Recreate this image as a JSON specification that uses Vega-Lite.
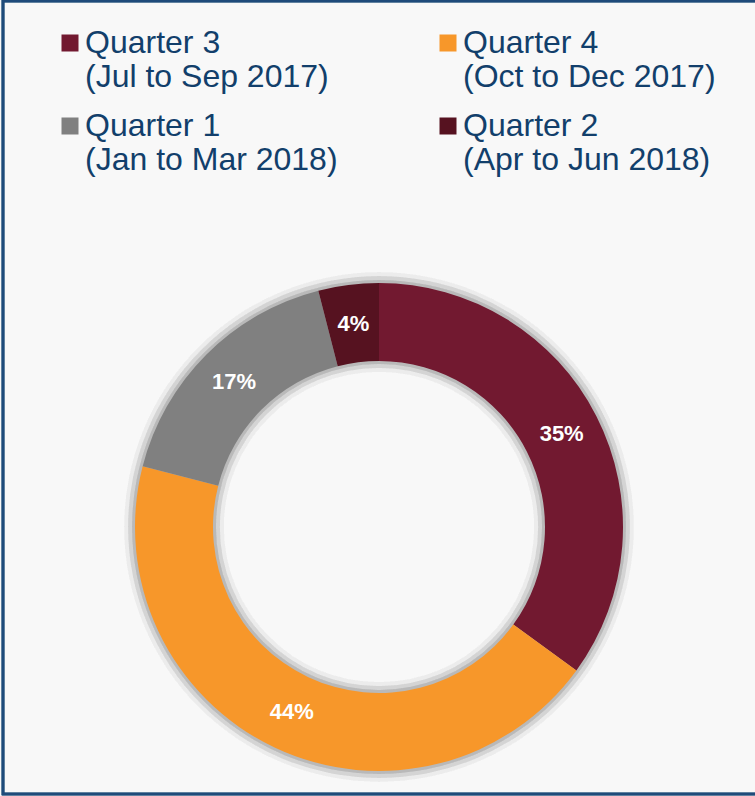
{
  "$schema": "https://vega.github.io/schema/vega-lite/v6.json",
  "width": 755,
  "height": 796,
  "autosize": "none",
  "padding": 0,
  "background": "#f8f8f8",
  "config": {
    "view": {"stroke": null},
    "font": "Liberation Sans"
  },
  "data": {
    "values": [
      {"quarter": "Quarter 3", "period": "(Jul to Sep 2017)", "share": 0.35, "order": 1},
      {"quarter": "Quarter 4", "period": "(Oct to Dec 2017)", "share": 0.44, "order": 2},
      {"quarter": "Quarter 1", "period": "(Jan to Mar 2018)", "share": 0.17, "order": 3},
      {"quarter": "Quarter 2", "period": "(Apr to Jun 2018)", "share": 0.04, "order": 4}
    ]
  },
  "layer": [
    {
      "mark": {"type": "rect", "fill": null, "stroke": "#1F4B7A", "strokeWidth": 2.5, "x2Offset": 8},
      "encoding": {
        "x": {"value": 3},
        "y": {"value": 1},
        "x2": {"value": "width"},
        "y2": {"value": 794}
      }
    },
    {
      "mark": {"type": "arc", "radius": 255, "radius2": 155, "color": "#000000", "opacity": 0.012, "xOffset": 1.5, "yOffset": 129},
      "encoding": {}
    },
    {
      "mark": {"type": "arc", "radius": 251, "radius2": 159, "color": "#000000", "opacity": 0.022, "xOffset": 1.5, "yOffset": 129},
      "encoding": {}
    },
    {
      "mark": {"type": "arc", "radius": 247, "radius2": 163, "color": "#000000", "opacity": 0.03, "xOffset": 1.5, "yOffset": 129},
      "encoding": {}
    },
    {
      "mark": {"type": "arc", "radius": 244, "radius2": 166, "xOffset": 1.5, "yOffset": 129},
      "encoding": {
        "theta": {"field": "share", "type": "quantitative", "stack": true},
        "order": {"field": "order", "type": "quantitative"},
        "color": {
          "field": "quarter",
          "type": "nominal",
          "scale": {
            "domain": ["Quarter 3", "Quarter 4", "Quarter 1", "Quarter 2"],
            "range": ["#721930", "#F7972A", "#808080", "#561220"]
          },
          "legend": {
            "orient": "none",
            "legendX": 54,
            "legendY": 27,
            "columns": 2,
            "direction": "horizontal",
            "title": null,
            "symbolType": "square",
            "symbolSize": 289,
            "symbolStrokeWidth": 0,
            "symbolOpacity": 1,
            "labelFontSize": 32,
            "labelColor": "#123F6B",
            "labelFont": "Liberation Sans",
            "labelLimit": 400,
            "labelBaseline": "middle",
            "labelOffset": -1,
            "labelExpr": "datum.label === 'Quarter 3' ? ['Quarter 3', '(Jul to Sep 2017)'] : datum.label === 'Quarter 4' ? ['Quarter 4', '(Oct to Dec 2017)'] : datum.label === 'Quarter 1' ? ['Quarter 1', '(Jan to Mar 2018)'] : ['Quarter 2', '(Apr to Jun 2018)']",
            "columnPadding": 94,
            "rowPadding": 17
          }
        }
      }
    },
    {
      "mark": {"type": "text", "radius": 205, "fontSize": 22, "fontWeight": "bold", "color": "#ffffff", "xOffset": 1.5, "yOffset": 129},
      "encoding": {
        "theta": {"field": "share", "type": "quantitative", "stack": true},
        "order": {"field": "order", "type": "quantitative"},
        "text": {"field": "share", "type": "quantitative", "format": ".0%"},
        "detail": {"field": "quarter"}
      }
    }
  ]
}
